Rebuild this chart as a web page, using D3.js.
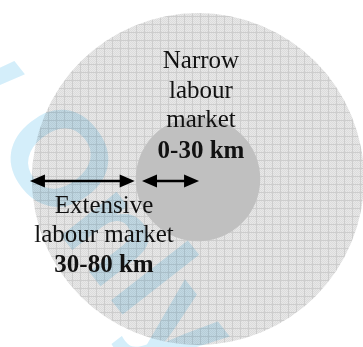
<!DOCTYPE html>
<html><head><meta charset="utf-8">
<script src="https://cdn.jsdelivr.net/npm/d3@7"></script>
<style>html,body{margin:0;padding:0;background:#fff;overflow:hidden}</style>
</head><body>
<svg id="chart" width="363" height="347"></svg>
<script>
// ---- data ----
const zoneNames = ["Extensive labour market", "Narrow labour market"];
const zoneRadiiKm = [80, 30];
const narrowLines = ["Narrow", "labour", "market"];
const narrowRange = "0-30 km";
const extensiveLines = ["Extensive", "labour market"];
const extensiveRange = "30-80 km";
// arrow spans, km relative to the centre (negative = left)
const arrowStartKm = [-81, -27];
const arrowEndKm = [-30.5, 0.5];
const watermarkWords = ["w", "Only"];

// ---- layout ----
const svg = d3.select("#chart");
const cx = 198, cy = 179;
const r = d3.scaleLinear().domain([0, 80]).range([0, 166]);
const x = d3.scaleLinear().domain([-80, 80]).range([cx - r(80), cx + r(80)]);

const defs = svg.append("defs");
const pat = defs.append("pattern").attr("id", "grid")
  .attr("patternUnits", "userSpaceOnUse").attr("width", 8).attr("height", 8);
pat.append("rect").attr("width", 8).attr("height", 8).attr("fill", "#e8e8e8");
for (let i = 0; i < 8; i++) for (let j = 0; j < 8; j++) {
  if ((i + j) % 2 === 0) pat.append("rect").attr("x", i).attr("y", j).attr("width", 1).attr("height", 1).attr("fill", "#dcdcdc");
}
pat.append("rect").attr("x", 0).attr("y", 0).attr("width", 8).attr("height", 1).attr("fill", "#cdcdcd");
pat.append("rect").attr("x", 0).attr("y", 0).attr("width", 1).attr("height", 8).attr("fill", "#cdcdcd");

// circles
svg.append("g").selectAll("circle").data(zoneRadiiKm).join("circle")
  .attr("cx", cx).attr("cy", cy).attr("r", d => r(d))
  .attr("fill", (d, i) => i === 0 ? "url(#grid)" : "#c0c0c0");

// watermark
const wm = svg.append("g")
  .attr("transform", "translate(-9,146) rotate(52)")
  .attr("font-family", "Liberation Sans, Arial, sans-serif")
  .attr("font-weight", "bold")
  .attr("font-size", 134)
  .attr("fill", "#d4eefa")
  .style("mix-blend-mode", "multiply");
wm.append("text").attr("x", -36).attr("text-anchor", "end").text(watermarkWords[0]);
wm.append("text").attr("x", 0).attr("text-anchor", "start").text(watermarkWords[1]);

// arrows
const ay = 181, headL = 15, headW = 6.5;
const ag = svg.append("g");
arrowStartKm.forEach((s, i) => {
  const x1 = x(s), x2 = x(arrowEndKm[i]);
  ag.append("line").attr("x1", x1 + headL - 2).attr("x2", x2 - headL + 2)
    .attr("y1", ay).attr("y2", ay).attr("stroke", "#000").attr("stroke-width", 2.5);
  ag.append("path").attr("d", `M${x1},${ay}L${x1 + headL},${ay - headW}L${x1 + headL},${ay + headW}Z`).attr("fill", "#000");
  ag.append("path").attr("d", `M${x2},${ay}L${x2 - headL},${ay - headW}L${x2 - headL},${ay + headW}Z`).attr("fill", "#000");
});

// labels
const font = "Liberation Serif, Times New Roman, serif";
const tg = svg.append("g").attr("font-family", font).attr("font-size", 25).attr("fill", "#111").attr("text-anchor", "middle");
const nx = 201, nTop = 68, lh = 30;
narrowLines.forEach((t, i) => tg.append("text").attr("x", nx).attr("y", nTop + i * lh - (i === 2 ? 1 : 0)).text(t));
tg.append("text").attr("x", nx).attr("y", 158).attr("font-weight", "bold").text(narrowRange);
const ex = 104;
extensiveLines.forEach((t, i) => tg.append("text").attr("x", ex).attr("y", 213 + i * 29).text(t));
tg.append("text").attr("x", ex).attr("y", 272).attr("font-weight", "bold").text(extensiveRange);
</script>
</body></html>
